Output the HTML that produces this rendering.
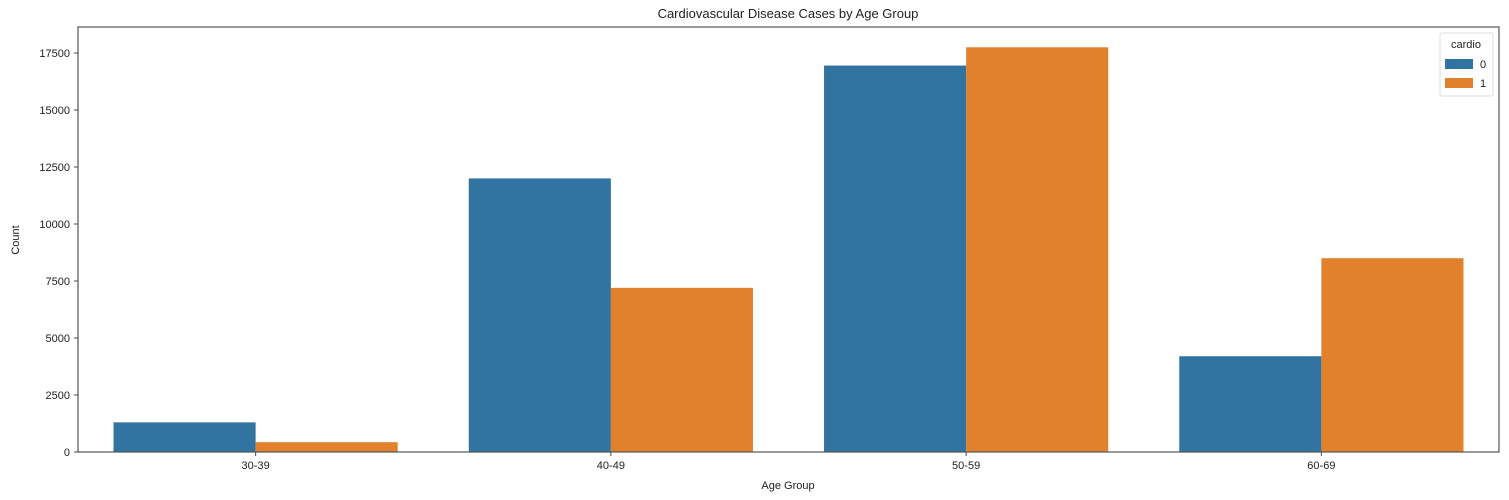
<!DOCTYPE html>
<html><head><meta charset="utf-8">
<style>
html,body{margin:0;padding:0;background:#fff;}
svg{display:block;font-family:"Liberation Sans","DejaVu Sans",sans-serif;}
</style></head>
<body>
<svg id="chart" width="1509" height="500" viewBox="0 0 1509 500">
<text x="788" y="18" text-anchor="middle" font-size="13" fill="#222">Cardiovascular Disease Cases by Age Group</text>
<text transform="translate(19,240) rotate(-90)" text-anchor="middle" font-size="11" fill="#222">Count</text>
<text x="788" y="489" text-anchor="middle" font-size="11" fill="#222">Age Group</text>
<g id="ticks"></g>
<g id="bars"></g>
<rect x="78" y="27" width="1421" height="425" fill="none" stroke="#555" stroke-width="1.2"/>
<g>
<rect x="1440" y="33" width="53" height="63" fill="#fff" stroke="#ddd" rx="2"/>
<text x="1466" y="48" text-anchor="middle" font-size="11" fill="#222">cardio</text>
<rect x="1445" y="59" width="28" height="10" fill="#3274a1"/>
<text x="1480" y="68" font-size="11" fill="#222">0</text>
<rect x="1445" y="78" width="28" height="10" fill="#e1812c"/>
<text x="1480" y="87" font-size="11" fill="#222">1</text>
</g>
</svg>
<script>
const categories = ["30-39","40-49","50-59","60-69"];
const cardio0 = [1300, 12000, 16950, 4200];
const cardio1 = [430, 7200, 17750, 8500];
const yTicks = [0,2500,5000,7500,10000,12500,15000,17500];

const NS="http://www.w3.org/2000/svg";
const L=78,R=1499,T=27,B=452;
const yMax=18700;
function y(v){return B-v*(B-53)/17500;}
const band=(R-L)/categories.length;
function xc(i){return L+band*(i+0.5);}
const bw=band*0.8/2;
const tg=document.getElementById('ticks');
const bg=document.getElementById('bars');
function mk(tag,attrs,parent){const e=document.createElementNS(NS,tag);for(const k in attrs)e.setAttribute(k,attrs[k]);parent.appendChild(e);return e;}
yTicks.forEach(v=>{
  const l=mk('line',{x1:L-4,x2:L,y1:y(v),y2:y(v),stroke:'#444'},tg);
  
  
  const t=mk('text',{x:L-8,y:y(v)+4,'text-anchor':'end','font-size':11,fill:'#222'},tg);
  t.textContent=v;
  
  
});
categories.forEach((c,i)=>{
  const cx=xc(i);
  const b0=mk('rect',{x:cx-bw,y:y(cardio0[i]),width:bw,height:B-y(cardio0[i]),fill:'#3274a1'},bg);
  
  
  const b1=mk('rect',{x:cx,y:y(cardio1[i]),width:bw,height:B-y(cardio1[i]),fill:'#e1812c'},bg);
  
  
  const l=mk('line',{x1:cx,x2:cx,y1:B,y2:B+4,stroke:'#444'},tg);
  
  
  const t=mk('text',{x:cx,y:B+17,'text-anchor':'middle','font-size':11,fill:'#222'},tg);
  t.textContent=c;
  
  
});
</script>
</body></html>
